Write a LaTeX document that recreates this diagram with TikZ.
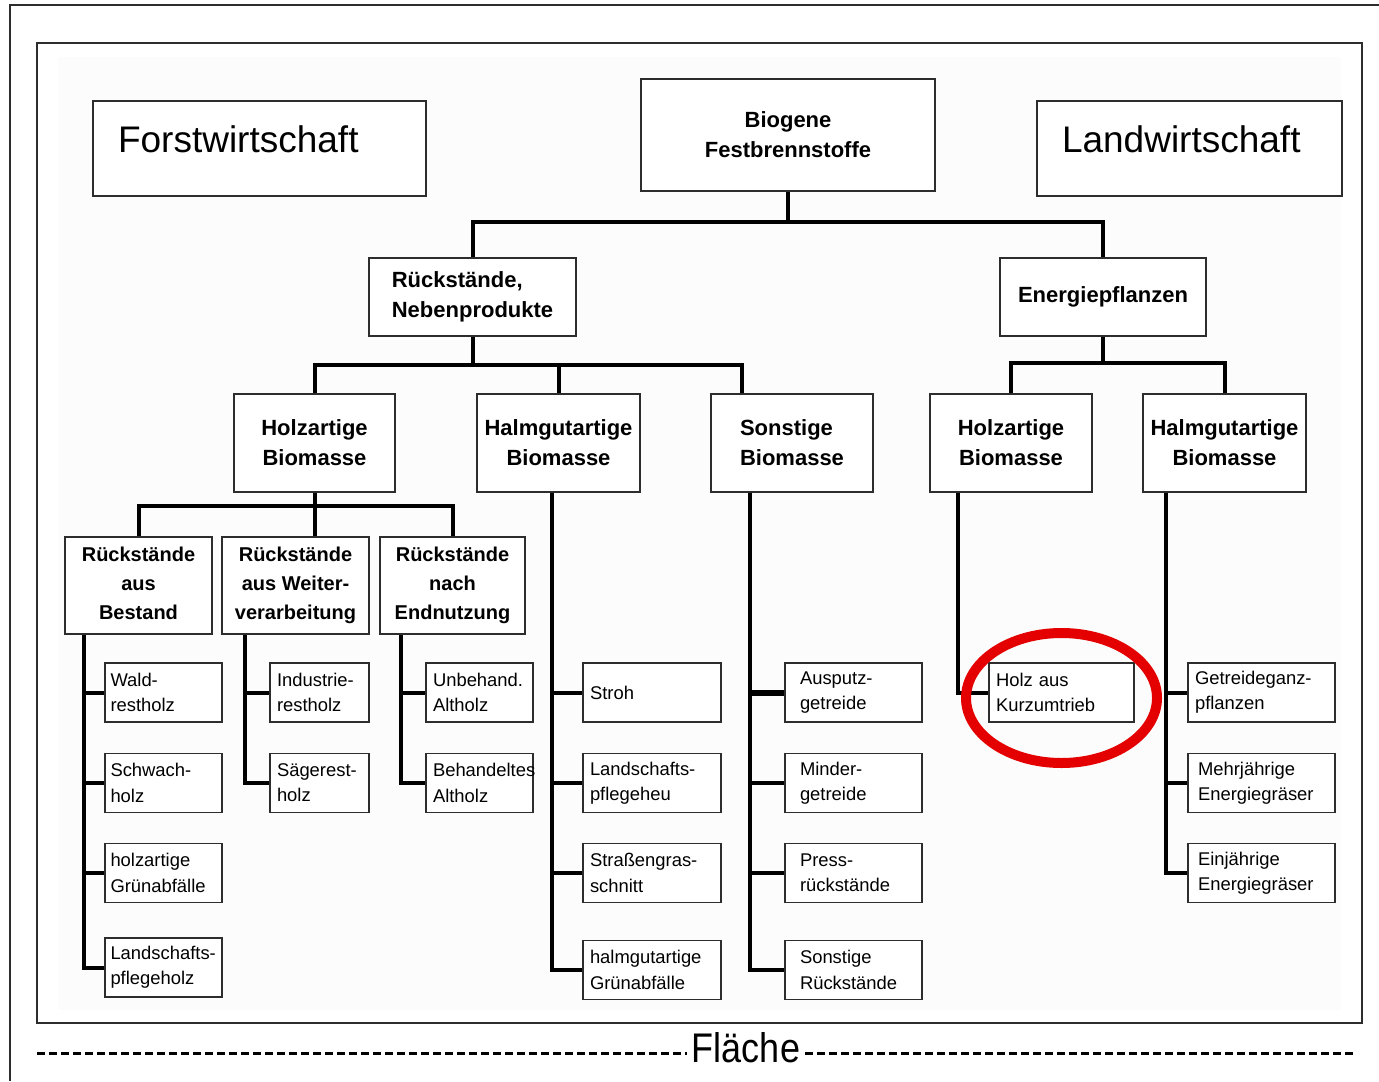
\documentclass[tikz,border=0pt]{standalone}
\usepackage{fontspec}
\setmainfont{Liberation Sans}
\hyphenpenalty=10000
\definecolor{ringred}{RGB}{228,0,0}
\definecolor{boxline}{RGB}{45,45,45}
\begin{document}
\begin{tikzpicture}[x=0.5pt,y=-0.5pt,
  frame/.style={draw=boxline,line width=1pt},
  areabox/.style={draw=boxline,line width=0.75pt,fill=white,text width=#1,align=left,inner xsep=12.5pt,minimum height=47.5pt,text depth=9pt,font=\fontsize{18.5}{22}\selectfont},
  headbox/.style={draw=boxline,line width=0.75pt,fill=white,align=center,font=\fontsize{11}{15}\selectfont\bfseries},
  subbox/.style={headbox,minimum height=48.5pt,text depth=2.5pt,font=\fontsize{10}{14.5}\selectfont\bfseries},
  leafbox/.style={draw=boxline,line width=0.75pt,fill=white,text width=#1,align=left,inner xsep=3.5pt,minimum height=29.5pt,font=\fontsize{9.2}{12.6}\selectfont},
  conn/.style={line width=2pt},
  dashline/.style={line width=1.5pt,dash pattern=on 4pt off 2pt}]
\useasboundingbox (0,0) rectangle (1379,1081);
\fill[black!1] (58,57) rectangle (1341,1010);
\draw[frame] (10,1081) -- (10,5) -- (1379,5);
\draw[frame] (37,43) rectangle (1362,1023);

\node[areabox=141.5pt] (forst) at (259.5,148.5) {Forstwirtschaft};
\node[areabox=127.5pt] (land) at (1189.5,148.5) {Landwirtschaft};

\node[headbox,minimum width=147pt,minimum height=56pt] (bio) at (788,135) {Biogene\\Festbrennstoffe};
\node[headbox,align=left,minimum width=103.5pt,minimum height=39pt] (rn) at (472.5,297) {Rückstände,\\Nebenprodukte};
\node[headbox,minimum width=103pt,minimum height=39pt] (ep) at (1103,297) {Energiepflanzen};
\node[headbox,minimum width=80.5pt,minimum height=49pt] (hzl) at (314.5,443) {Holzartige\\Biomasse};
\node[headbox,minimum width=81.5pt,minimum height=49pt] (hml) at (558.5,443) {Halmgutartige\\Biomasse};
\node[headbox,align=left,minimum width=81pt,minimum height=49pt] (so) at (792,443) {Sonstige\\Biomasse};
\node[headbox,minimum width=81pt,minimum height=49pt] (hzr) at (1011,443) {Holzartige\\Biomasse};
\node[headbox,minimum width=81.5pt,minimum height=49pt] (hmr) at (1224.5,443) {Halmgutartige\\Biomasse};
\node[subbox,minimum width=73.5pt] (rb) at (138.5,585.5) {Rückstände\\aus\\Bestand};
\node[subbox,minimum width=73.5pt] (rw) at (295.5,585.5) {Rückstände\\aus Weiter-\\verarbeitung};
\node[subbox,minimum width=72.5pt] (re) at (452.5,585.5) {Rückstände\\nach\\Endnutzung};

\node[leafbox=53pt,inner xsep=2.75pt] (wald) at (163.5,692.5) {Wald-\\restholz};
\node[leafbox=53pt,inner xsep=2.75pt] (schwach) at (163.5,783) {Schwach-\\holz};
\node[leafbox=53pt,inner xsep=2.75pt] (gruenholz) at (163.5,873) {holzartige\\Grünabfälle};
\node[leafbox=53pt,inner xsep=2.75pt] (lpholz) at (163.5,967.5) {Landschafts-\\pflegeholz};
\node[leafbox=42.5pt] (industrie) at (319.5,692.5) {Industrie-\\restholz};
\node[leafbox=42.5pt] (saege) at (319.5,783) {Sägerest-\\holz};
\node[leafbox=46.5pt] (unbeh) at (479.5,692.5) {Unbehand.\\Altholz};
\node[leafbox=46.5pt] (behand) at (479.5,783) {Behandeltes\\Altholz};
\node[leafbox=62pt] (stroh) at (652,692.5) {Stroh};
\node[leafbox=62pt] (lpheu) at (652,783) {Landschafts-\\pflegeheu};
\node[leafbox=62pt] (strasse) at (652,873) {Straßengras-\\schnitt};
\node[leafbox=62pt] (gruenhalm) at (652,970) {halmgutartige\\Grünabfälle};
\node[leafbox=53.5pt,inner xsep=7.5pt] (ausputz) at (853.5,692.5) {Ausputz-\\getreide};
\node[leafbox=53.5pt,inner xsep=7.5pt] (minder) at (853.5,783) {Minder-\\getreide};
\node[leafbox=53.5pt,inner xsep=7.5pt] (press) at (853.5,873) {Press-\\rückstände};
\node[leafbox=53.5pt,inner xsep=7.5pt] (sonstrueck) at (853.5,970) {Sonstige\\Rückstände};
\node[leafbox=65.5pt] (kurzumtrieb) at (1061.5,692.5) {Holz aus\\Kurzumtrieb};
\node[leafbox=66.5pt] (ganzpfl) at (1261.5,692.5) {Getreideganz-\\pflanzen};
\node[leafbox=63.5pt,inner xsep=5pt] (mehrj) at (1261.5,783) {Mehrjährige\\Energiegräser};
\node[leafbox=63.5pt,inner xsep=5pt] (einj) at (1261.5,873) {Einjährige\\Energiegräser};

\draw[conn] (bio.south) -- ++(0,30) coordinate (top);
\draw[conn] (rn.north) |- (top) -| (ep.north);
\draw[conn] (rn.south) -- ++(0,28) coordinate (midl);
\draw[conn] (hzl.north) |- (midl) -| ([xshift=-25pt]so.north);
\draw[conn] (midl -| hml.north) -- (hml.north);
\draw[conn] (ep.south) -- ++(0,26) coordinate (midr);
\draw[conn] (hzr.north) |- (midr) -| (hmr.north);
\draw[conn] (hzl.south) -- ++(0,13) coordinate (low);
\draw[conn] (rb.north) |- (low) -| (re.north);
\draw[conn] (low) -- (low |- rw.north);

\coordinate (s1) at ([xshift=10pt]rb.south west);
\draw[conn] (s1) |- (lpholz.west);
\foreach \n in {wald,schwach,gruenholz} \draw[conn] (s1 |- \n.west) -- (\n.west);
\coordinate (s2) at ([xshift=12pt]rw.south west);
\draw[conn] (s2) |- (saege.west);
\draw[conn] (s2 |- industrie.west) -- (industrie.west);
\coordinate (s3) at ([xshift=11pt]re.south west);
\draw[conn] (s3) |- (behand.west);
\draw[conn] (s3 |- unbeh.west) -- (unbeh.west);
\coordinate (s4) at ([xshift=-3.5pt]hml.south);
\draw[conn] (s4) |- (gruenhalm.west);
\foreach \n in {stroh,lpheu,strasse} \draw[conn] (s4 |- \n.west) -- (\n.west);
\coordinate (s5) at ([xshift=-21pt]so.south);
\draw[conn] (s5) |- (sonstrueck.west);
\draw[line width=3pt] (s5 |- ausputz.west) -- (ausputz.west);
\foreach \n in {minder,press} \draw[conn] (s5 |- \n.west) -- (\n.west);
\coordinate (s6) at ([xshift=14.5pt]hzr.south west);
\draw[conn] (s6) |- (kurzumtrieb.west);
\coordinate (s7) at ([xshift=12pt]hmr.south west);
\draw[conn] (s7) |- (einj.west);
\foreach \n in {ganzpfl,mehrj} \draw[conn] (s7 |- \n.west) -- (\n.west);

\draw[ringred,line width=5pt] ([yshift=-2.75pt]kurzumtrieb.center) ellipse [x radius=47.75pt,y radius=32.5pt];

\node[font=\fontsize{18}{20}\selectfont,inner xsep=2.5pt] (flaeche) at (746,1048) {\scalebox{1}[1.15]{Fläche}};
\coordinate (dl) at (37,1053);
\coordinate (dr) at (1355,1053);
\draw[dashline] (dl) -- (dl -| flaeche.west);
\draw[dashline] (flaeche.east |- dr) -- (dr);
\end{tikzpicture}
\end{document}
